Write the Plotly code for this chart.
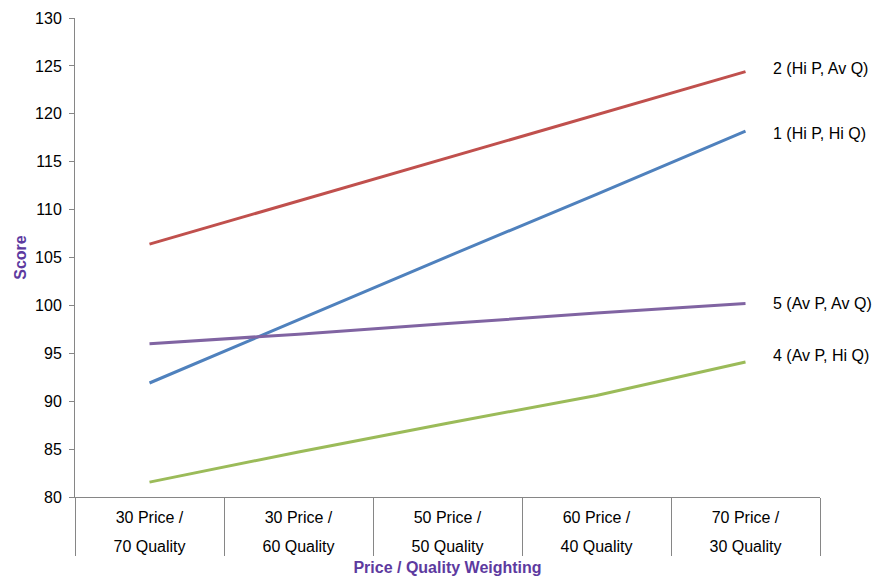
import plotly.graph_objects as go

# Price / quality weighting scenarios
categories = ["30P/70Q", "30P/60Q", "50P/50Q", "60P/40Q", "70P/30Q"]
tick_line1 = ["30 Price /", "30 Price /", "50 Price /", "60 Price /", "70 Price /"]
tick_line2 = ["70 Quality", "60 Quality", "50 Quality", "40 Quality", "30 Quality"]

# Scores per bidder
names = ["2 (Hi P, Av Q)", "1 (Hi P, Hi Q)", "5 (Av P, Av Q)", "4 (Av P, Hi Q)"]
bidder2 = [106.4, 110.9, 115.4, 119.9, 124.4]
bidder1 = [91.9, 98.5, 105.1, 111.6, 118.2]
bidder5 = [96.0, 97.0, 98.1, 99.2, 100.2]
bidder4 = [81.55, 84.7, 87.7, 90.6, 94.1]

series = [bidder2, bidder1, bidder5, bidder4]
colors = ["#C0504D", "#4F81BD", "#8064A2", "#9BBB59"]
label_yshift = [3, -2, 0, 6]

axis_grey = "#868686"
title_purple = "#5D3A9F"
font_family = "Liberation Sans, Arial, sans-serif"
fs = 16

fig = go.Figure()
for name, vals, col in zip(names, series, colors):
    fig.add_trace(go.Scatter(
        x=categories, y=vals, mode="lines", name=name,
        line=dict(color=col, width=3), showlegend=False,
    ))

# Carrier for the second row of category labels (draws nothing)
fig.add_trace(go.Scatter(
    x=list(range(len(categories))), y=bidder1, mode="none",
    xaxis="x2", showlegend=False, hoverinfo="skip",
))

# End-of-line labels
for name, vals, dy in zip(names, series, label_yshift):
    fig.add_annotation(
        x=categories[-1], y=vals[-1], text=name, showarrow=False,
        xanchor="left", yanchor="middle", xshift=25, yshift=dy,
        font=dict(family=font_family, size=fs, color="#000000"),
    )

fig.update_layout(
    width=881, height=577,
    margin=dict(l=75, r=61, t=18, b=80, autoexpand=False),
    paper_bgcolor="white", plot_bgcolor="white",
    font=dict(family=font_family, size=fs, color="#000000"),
    xaxis=dict(
        type="category", range=[-0.5, 4.5], automargin=False,
        tickmode="array", tickvals=categories, ticktext=tick_line1,
        tickson="boundaries", ticks="outside", ticklen=58,
        tickcolor=axis_grey, tickwidth=1,
        showline=True, linecolor=axis_grey, linewidth=1,
        showgrid=False, zeroline=False,
        ticklabelstandoff=6,
        tickfont=dict(size=fs),
    ),
    xaxis2=dict(
        overlaying="x", anchor="y", side="bottom", automargin=False,
        range=[-0.5, 4.5], tickmode="array",
        tickvals=[0, 1, 2, 3, 4], ticktext=tick_line2,
        ticks="", showline=False, showgrid=False, zeroline=False,
        ticklabelstandoff=38,
        tickfont=dict(size=fs),
        title=dict(text="<b>Price / Quality Weighting</b>",
                   font=dict(size=fs, color=title_purple), standoff=7),
    ),
    yaxis=dict(
        range=[80, 130], dtick=5, tick0=80, automargin=False,
        ticks="outside", ticklen=5, tickcolor=axis_grey,
        showline=True, linecolor=axis_grey, linewidth=1,
        showgrid=False, zeroline=False,
        ticklabelstandoff=4,
        tickfont=dict(size=fs),
        title=dict(text="<b>Score</b>",
                   font=dict(size=fs, color=title_purple), standoff=4),
    ),
)

fig.write_html("out.html")
